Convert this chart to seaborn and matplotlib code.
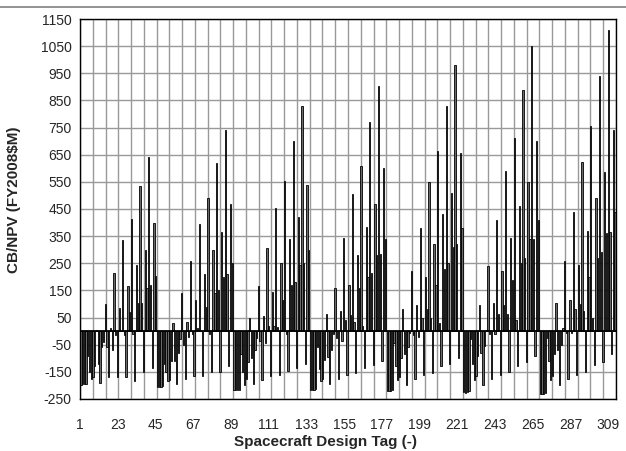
import numpy as np
import pandas as pd
import seaborn as sns
from matplotlib import pyplot as plt

# CB/NPV per spacecraft design, one list per group of 44 tags
cluster_1 = [-200, -195, -195, -195, -90, -150, -175, -170, -130, 5, -120, -190, -60, -40, 100,
             -60, -170, 10, -70, 215, -15, -170, 85, 0, 335, -15, -170, 165, 70, 415, -10, -185,
             245, 105, 535, 105, -150, 300, 160, 640, 170, -135, 400, 205]
cluster_2 = [-205, -205, -207, -203, -120, -150, -185, -180, -110, 30, -110, -195, -80, -30, 140,
             -50, -175, 35, -20, 260, -10, -165, 115, 10, 395, 0, -165, 210, 90, 490, -10, -150,
             300, 140, 620, 150, -150, 365, 200, 740, 210, -130, 470, 250]
cluster_3 = [-215, -217, -217, -215, -85, -150, -200, -175, -115, 50, -100, -195, -70, -25, 165,
             -35, -180, 55, -45, 305, 20, -165, 145, 20, 455, 15, -160, 250, 115, 555, -10, -145,
             340, 170, 700, 180, -135, 420, 245, 830, 250, -120, 540, 300]
cluster_4 = [-217, -217, -215, -213, -60, -140, -185, -175, -105, 65, -95, -195, -70, -10, 160,
             -25, -175, 75, -35, 345, 40, -160, 170, 60, 505, 35, -155, 280, 160, 610, 20, -135,
             385, 200, 770, 215, -125, 470, 280, 905, 285, -110, 600, 340]
cluster_5 = [-220, -222, -220, -218, -45, -130, -180, -170, -100, 80, -85, -200, -60, -5, 220,
             -15, -175, 95, -20, 380, 50, -160, 200, 80, 550, 50, -155, 320, 170, 665, 30, -130,
             430, 230, 830, 250, -120, 510, 310, 980, 320, -100, 655, 380]
cluster_6 = [-225, -227, -225, -222, -30, -120, -180, -165, -90, 95, -80, -200, -55, 5, 240,
             -10, -175, 105, -10, 410, 65, -160, 220, 95, 590, 65, -150, 345, 190, 710, 40, -130,
             460, 250, 890, 270, -115, 550, 340, 1050, 340, -90, 700, 410]
cluster_7 = [-230, -232, -230, -228, -25, -110, -180, -165, -85, 105, -70, -200, -50, 10, 260,
             -5, -175, 115, -5, 440, 80, -160, 245, 100, 625, 75, -150, 370, 200, 755, 50, -125,
             490, 270, 940, 290, -115, 585, 360, 1110, 365, -85, 740, 440]

tick_tags = [1, 23, 45, 67, 89, 111, 133, 155, 177, 199, 221, 243, 265, 287, 309]
y_ticks = list(range(-250, 1151, 100))

values = cluster_1 + cluster_2 + cluster_3 + cluster_4 + cluster_5 + cluster_6 + cluster_7
df = pd.DataFrame({'tag': np.arange(1, len(values) + 1), 'cbnpv': values})

sns.set_style('white')
plt.rcParams['font.family'] = ['Liberation Sans', 'DejaVu Sans']

fig = plt.figure(figsize=(6.26, 4.51), dpi=100)
ax = fig.add_axes([80 / 626, 52 / 451, 536 / 626, 380 / 451])

n = len(values)
# grid first so bars sit on top
for gx in np.linspace(-0.5, n - 0.5, 43):
    ax.axvline(gx, color='#999999', lw=1.0, zorder=0)
for gy in y_ticks:
    ax.axhline(gy, color='#999999', lw=1.0, zorder=0)

sns.barplot(x='tag', y='cbnpv', data=df, color='#6a6a6a', saturation=1,
            edgecolor='black', linewidth=0.6, width=0.75, ax=ax, zorder=2)
ax.axhline(0, color='black', lw=1.3, zorder=3)

ax.set_xlim(-0.5, n - 0.5)
ax.set_ylim(-250, 1150)
ax.set_yticks(y_ticks)
ax.set_yticklabels([str(v) for v in y_ticks], fontsize=10)
ax.set_xticks(np.linspace(-0.5, n - 5, len(tick_tags)))
ax.set_xticklabels([str(t) for t in tick_tags], fontsize=10)
ax.tick_params(axis='y', length=3, width=0.8, color='black', pad=3)
ax.tick_params(axis='x', length=0, pad=14)

ax.set_xlabel('Spacecraft Design Tag (-)', fontsize=11, fontweight='bold')
ax.xaxis.set_label_coords((325 - 80) / 536, -(435 - 399) / 380)
ax.set_ylabel('CB/NPV (FY2008$M)', fontsize=11, fontweight='bold')
ax.yaxis.set_label_coords(-(80 - 21) / 536, (399 - 200) / 380)

for side in ['left', 'bottom', 'top', 'right']:
    ax.spines[side].set_color('black')
    ax.spines[side].set_linewidth(1.0)

fig.add_artist(plt.Line2D([0, 1], [1 - 7 / 451, 1 - 7 / 451], color='#808080', lw=1.2))

plt.savefig('out.png', dpi=100)
